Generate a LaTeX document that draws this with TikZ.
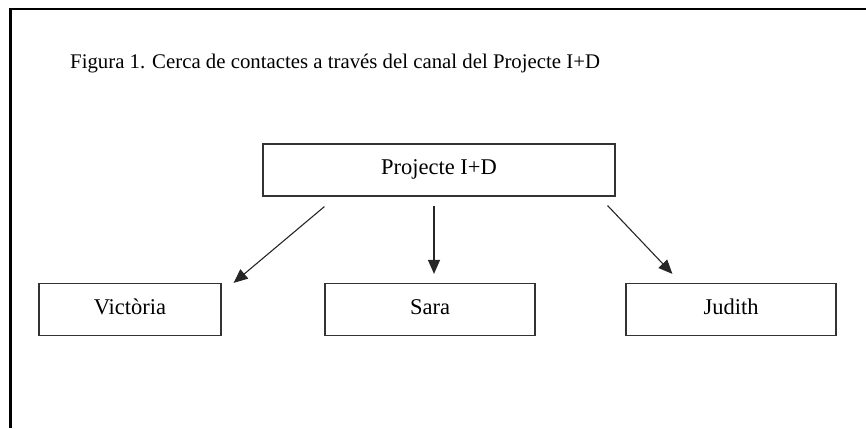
\documentclass[tikz,border=0pt]{standalone}
\usepackage{fontspec}
\setmainfont{Liberation Serif}
\usetikzlibrary{arrows.meta, positioning}

\begin{document}
\begin{tikzpicture}[x=1pt, y=-1pt,
    box/.style={rectangle, draw=black!80, line width=1.2pt, minimum height=52pt, inner sep=0pt, text height=15pt, text depth=6pt, font=\fontsize{22.5}{25}\selectfont},
    arr/.style={-{Triangle[length=14pt, width=12pt]}, draw=black!85, line width=1.1pt}]
    \useasboundingbox (0,0) rectangle (866,428);
    \draw[line width=2.8pt] (10.5,428) -- (10.5,9) -- (866,9);

    \node[anchor=base west, inner sep=0pt, font=\fontsize{20.8}{23}\selectfont] (title) at (70,68) {Figura 1. Cerca de contactes a través del canal del Projecte I+D};

    \node[box, minimum width=352pt] (proj) at (439,170) {Projecte I+D};
    \node[box, minimum width=182pt] (vic) at (130,309.5) {Victòria};
    \node[box, minimum width=210pt] (sara) at (430,309.5) {Sara};
    \node[box, minimum width=210pt] (jud) at (731,309.5) {Judith};

    \draw[arr] ([xshift=62pt, yshift=-10pt]proj.south west) -- ([xshift=12pt]vic.north east);
    \draw[arr] ([xshift=-5pt, yshift=-9pt]proj.south) -- ([xshift=4pt, yshift=9pt]sara.north);
    \draw[arr] ([xshift=-8pt, yshift=-9pt]proj.south east) -- ([xshift=47pt, yshift=9pt]jud.north west);
\end{tikzpicture}
\end{document}
